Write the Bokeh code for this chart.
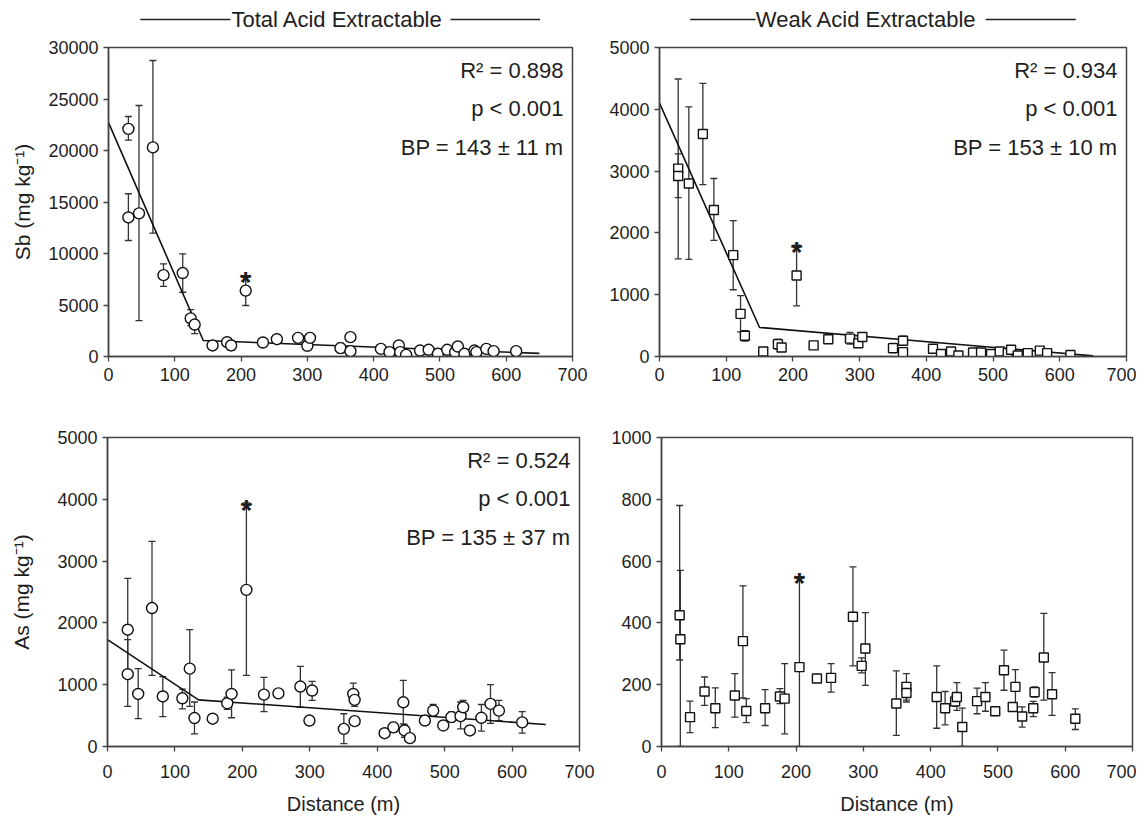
from bokeh.plotting import figure
from bokeh.layouts import row, column
from bokeh.models import Range1d, ColumnDataSource, Whisker, TeeHead, Label
from bokeh.core.properties import value
from bokeh.embed import file_html
from bokeh.resources import INLINE

FONT = "Liberation Sans"
INK = "#1e1e1e"
AX = "#444444"

x_ticks = [0, 100, 200, 300, 400, 500, 600, 700]

# ---- Sb, total acid extractable ----
sb_tot_dist = [30, 30, 46, 67, 83, 112, 124, 130, 157, 179, 185, 207, 233, 254, 286, 300, 304,
               350, 365, 365, 411, 424, 438, 440, 449, 470, 483, 497, 511, 523, 527, 537, 552,
               555, 570, 581, 615]
sb_tot = [22100, 13500, 13900, 20300, 7900, 8100, 3700, 3100, 1070, 1390, 1070, 6400, 1360,
          1680, 1810, 1040, 1810, 810, 1880, 520, 740, 420, 1070, 420, 160, 580, 650, 260, 650,
          420, 970, 260, 580, 420, 740, 520, 520]
sb_tot_lo = [21000, 11260, 3490, 11970, 6800, 6240, 3000, 2230, 900, 1150, 600, 4950, 1200,
             1500, 1600, 850, 1650, 350, 1700, 400, 600, 300, 900, 300, 50, 450, 500, 150, 500,
             300, 800, 150, 450, 300, 600, 400, 400]
sb_tot_hi = [23300, 15800, 24370, 28740, 9000, 9970, 4560, 3500, 1250, 1650, 1500, 7860, 1520,
             1850, 2000, 1200, 1950, 1300, 2050, 650, 880, 550, 1250, 550, 280, 700, 800, 380,
             800, 550, 1130, 380, 700, 550, 880, 650, 650]
sb_tot_fit_x = [0, 143, 650]
sb_tot_fit_y = [22700, 1550, 300]
sb_tot_yticks = [0, 5000, 10000, 15000, 20000, 25000, 30000]

# ---- Sb, weak acid extractable ----
sb_weak_dist = [28, 28, 44, 65, 81.5, 110.5, 121.5, 128, 155.5, 177.5, 183, 205.5, 231, 253,
                285.5, 298, 304, 350, 365, 365, 410, 422, 437, 448, 470, 482, 497, 510, 522,
                527, 537, 552, 570, 581, 616]
sb_weak = [3040, 2920, 2800, 3600, 2370, 1640, 690, 335, 80, 200, 145, 1310, 180, 280, 290, 215,
           315, 135, 255, 70, 125, 40, 80, 15, 65, 65, 40, 80, 55, 110, 15, 55, 95, 55, 25]
sb_weak_lo = [1580, 2570, 1570, 2780, 1880, 1080, 400, 250, 50, 120, 90, 820, 130, 220, 200,
              160, 250, 60, 180, 30, 80, 10, 40, 0, 30, 30, 10, 40, 20, 60, 0, 20, 50, 20, 5]
sb_weak_hi = [4490, 3280, 4040, 4420, 2880, 2200, 985, 420, 110, 280, 200, 1800, 230, 340, 390,
              270, 380, 210, 330, 110, 170, 70, 120, 40, 100, 100, 70, 120, 90, 160, 40, 90, 140,
              90, 45]
sb_weak_fit_x = [0, 150, 650]
sb_weak_fit_y = [4100, 470, 10]
sb_weak_yticks = [0, 1000, 2000, 3000, 4000, 5000]

# ---- As, total acid extractable ----
as_tot_dist = [30, 30, 45.5, 66, 82, 111, 122, 129, 156, 177.6, 184, 206, 232, 253.5, 286,
               299.5, 303.5, 350.5, 364.5, 366.5, 366.5, 411, 424, 438.7, 440.5, 448.5, 470.7,
               483, 498, 510, 523.6, 527.5, 537.5, 554.5, 568, 580.5, 615]
as_tot = [1890, 1170, 850, 2240, 810, 780, 1260, 460, 450, 700, 850, 2535, 840, 860, 970, 420,
          905, 285, 850, 755, 410, 215, 310, 715, 260, 135, 420, 580, 340, 475, 490, 635, 260,
          465, 690, 580, 390]
as_tot_lo = [1150, 650, 450, 1150, 485, 610, 650, 205, 400, 600, 465, 1150, 565, 800, 635, 370,
             745, 45, 700, 650, 350, 170, 230, 365, 150, 70, 370, 500, 290, 400, 285, 530, 200,
             250, 375, 420, 215]
as_tot_hi = [2720, 1730, 1260, 3320, 1130, 930, 1890, 720, 500, 800, 1240, 3940, 1120, 920,
             1295, 470, 1055, 530, 1025, 860, 470, 260, 390, 1070, 350, 190, 470, 680, 390, 560,
             720, 745, 320, 680, 1000, 745, 565]
as_tot_fit_x = [0, 135, 650]
as_tot_fit_y = [1730, 755, 355]
as_tot_yticks = [0, 1000, 2000, 3000, 4000, 5000]

# ---- As, weak acid extractable ----
as_weak_dist = [27, 28, 42.4, 64, 80, 109, 121, 126, 154, 176, 183, 205, 231, 252, 284.5, 297.5,
                303, 349, 364, 364, 409, 421.5, 436.4, 439, 447, 469, 481.4, 496, 509, 522, 526,
                536, 552.5, 554.5, 568.2, 580.5, 615]
as_weak = [425, 347, 95, 178, 124, 165, 341, 115, 124, 162, 155, 257, 220, 222, 420, 261, 317,
           139, 193, 173, 160, 124, 146, 160, 63, 147, 160, 114, 247, 128, 193, 97, 124, 176, 288,
           169, 90]
as_weak_lo = [280, 0, 45, 133, 61, 95, 157, 77, 68, 139, 41, 0, 220, 176, 261, 238, 198, 36, 144,
              150, 59, 70, 130, 117, 0, 106, 114, 105, 182, 115, 128, 63, 97, 160, 150, 101, 55]
as_weak_hi = [780, 570, 147, 225, 190, 236, 520, 155, 184, 187, 268, 550, 220, 268, 581, 287,
              433, 245, 236, 200, 261, 178, 165, 207, 124, 189, 207, 124, 312, 140, 249, 128, 146,
              193, 431, 239, 122]
as_weak_yticks = [0, 200, 400, 600, 800, 1000]

star_index = 11  # the flagged sample at ~205 m

stats_sb_tot = ["R² = 0.898", "p < 0.001", "BP = 143 ± 11 m"]
stats_sb_weak = ["R² = 0.934", "p < 0.001", "BP = 153 ± 10 m"]
stats_as_tot = ["R² = 0.524", "p < 0.001", "BP = 135 ± 37 m"]

title_left = "Total Acid Extractable"
title_right = "Weak Acid Extractable"

FH = 309
TITLE_H = 35


def title_fig(text, tx, lines, fw, bl, br):
    t = figure(frame_width=fw, frame_height=TITLE_H, x_range=Range1d(0, 700),
               y_range=Range1d(0, TITLE_H), output_backend="svg", toolbar_location=None,
               x_axis_location=None, y_axis_location=None, title=None,
               min_border_left=bl, min_border_right=br, min_border_top=0, min_border_bottom=0)
    t.outline_line_color = None
    t.xgrid.visible = False
    t.ygrid.visible = False
    t.background_fill_color = "white"
    t.border_fill_color = "white"
    ty = TITLE_H - 19
    t.text(x=[tx], y=[ty], text=[text], text_align="center", text_baseline="middle",
           text_font=value(FONT), text_font_size="22px", text_color=INK)
    t.segment(x0=[a for a, b in lines], x1=[b for a, b in lines], y0=[ty] * len(lines),
              y1=[ty] * len(lines), line_color="#222222", line_width=1.6)
    return t


def panel(dist, vals, lo, hi, marker, ymax, yticks, fw, bl, br, bt, bb,
          ylabel=None, xlabel=None, stats=None, fit=None,
          xl_standoff=6, yl_standoff=3):
    p = figure(frame_width=fw, frame_height=FH, x_range=Range1d(0, 700),
               y_range=Range1d(0, ymax), output_backend="svg", toolbar_location=None,
               title=None, min_border_left=bl, min_border_right=br, min_border_top=bt,
               min_border_bottom=bb)
    p.background_fill_color = "white"
    p.border_fill_color = "white"
    p.outline_line_color = AX
    p.outline_line_width = 1.5
    p.xgrid.visible = False
    p.ygrid.visible = False
    for ax in (p.xaxis, p.yaxis):
        ax.axis_line_color = AX
        ax.axis_line_width = 1.5
        ax.major_tick_line_color = AX
        ax.major_tick_line_width = 1.3
        ax.major_tick_in = 0
        ax.major_tick_out = 5
        ax.minor_tick_line_color = None
        ax.major_label_text_font = FONT
        ax.major_label_text_font_size = "18px"
        ax.major_label_text_color = INK
        ax.axis_label_text_font = FONT
        ax.axis_label_text_font_style = "normal"
        ax.axis_label_text_color = INK
    p.xaxis.ticker = x_ticks
    p.yaxis.ticker = yticks
    p.xaxis.major_label_standoff = xl_standoff
    p.yaxis.major_label_standoff = 5
    if ylabel:
        p.yaxis.axis_label = ylabel
        p.yaxis.axis_label_text_font_size = "21px"
        p.yaxis.axis_label_standoff = yl_standoff
    if xlabel:
        p.xaxis.axis_label = xlabel
        p.xaxis.axis_label_text_font_size = "20px"
        p.xaxis.axis_label_standoff = 12

    src = ColumnDataSource(dict(x=dist, y=vals, lo=lo, hi=hi))
    w = Whisker(source=src, base="x", upper="hi", lower="lo", dimension="height",
                line_color="#333333", line_width=1.3,
                upper_head=TeeHead(size=7, line_color="#333333", line_width=1.3),
                lower_head=TeeHead(size=7, line_color="#333333", line_width=1.3),
                level="underlay")
    p.add_layout(w)

    if fit is not None:
        p.line(fit[0], fit[1], line_color="#111111", line_width=1.6)

    if marker == "circle":
        p.scatter("x", "y", source=src, marker="circle", size=11, fill_color="white",
                  line_color="#111111", line_width=1.4)
    else:
        p.scatter("x", "y", source=src, marker="square", size=9, fill_color="white",
                  line_color="#111111", line_width=1.4)

    p.text(x=[dist[star_index]], y=[hi[star_index]], text=["*"], text_align="center",
           text_baseline="alphabetic", y_offset=6, text_font=value(FONT),
           text_font_size="30px", text_font_style="bold", text_color=INK)

    if stats:
        xr = 700 - 9 * 700 / fw
        for txt, off in zip(stats, (23, 61, 100)):
            p.add_layout(Label(x=xr, y=ymax - off * ymax / FH, text=txt, text_align="right",
                               text_baseline="middle", text_font=FONT, text_font_size="22px",
                               text_color=INK))
    return p


t_l = title_fig(title_left, 345, [(48, 184), (516, 651)], 464, 108, 20)
t_r = title_fig(title_right, 310, [(46, 144), (489, 624)], 467, 67, 10)

p_tl = panel(sb_tot_dist, sb_tot, sb_tot_lo, sb_tot_hi, "circle", 30000, sb_tot_yticks,
             464, 108, 20, 12, 36, ylabel="Sb (mg kg⁻¹)",
             stats=stats_sb_tot, fit=(sb_tot_fit_x, sb_tot_fit_y), yl_standoff=11)
p_tr = panel(sb_weak_dist, sb_weak, sb_weak_lo, sb_weak_hi, "square", 5000, sb_weak_yticks,
             467, 67, 10, 12, 36,
             stats=stats_sb_weak, fit=(sb_weak_fit_x, sb_weak_fit_y))
p_bl = panel(as_tot_dist, as_tot, as_tot_lo, as_tot_hi, "circle", 5000, as_tot_yticks,
             472, 107, 20, 45, 72, ylabel="As (mg kg⁻¹)", xlabel="Distance (m)",
             stats=stats_as_tot, fit=(as_tot_fit_x, as_tot_fit_y), xl_standoff=13,
             yl_standoff=21)
p_br = panel(as_weak_dist, as_weak, as_weak_lo, as_weak_hi, "square", 1000, as_weak_yticks,
             471, 62, 4, 45, 72, xlabel="Distance (m)", xl_standoff=13)

layout = column(row(t_l, t_r), row(p_tl, p_tr), row(p_bl, p_br))
open("out.html", "w").write(file_html(layout, INLINE))
